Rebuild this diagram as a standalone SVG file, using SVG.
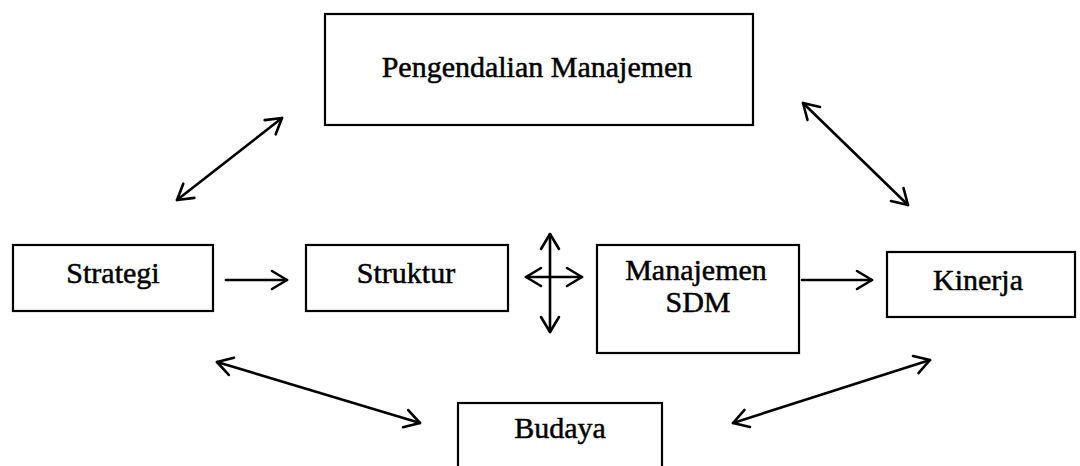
<svg xmlns="http://www.w3.org/2000/svg" width="1080" height="466" viewBox="0 0 1080 466">
<style>
.box{fill:#fff;stroke:#000;stroke-width:2.2}
.lbl{font-family:"Liberation Serif","Times New Roman",serif;font-size:30px;fill:#000;stroke:#000;stroke-width:0.5;text-anchor:middle}
.con{fill:none;stroke:#000;stroke-width:2.6;stroke-linecap:round}
</style>
<defs>
<marker id="ah" viewBox="0 0 24 24" refX="21" refY="12" markerWidth="24" markerHeight="24" markerUnits="userSpaceOnUse" orient="auto-start-reverse">
<path d="M6,3 L21,12 L6,21" fill="none" stroke="#000" stroke-width="2.6" stroke-linecap="round" stroke-linejoin="round"/>
</marker>
</defs>
<rect width="1080" height="466" fill="#fff"/>
<g id="connectors">
<line class="con" x1="226" y1="280" x2="287" y2="280" marker-end="url(#ah)"/>
<line class="con" x1="802" y1="280" x2="872" y2="280" marker-end="url(#ah)"/>
<line class="con" x1="550" y1="234" x2="550" y2="332" marker-start="url(#ah)" marker-end="url(#ah)"/>
<line class="con" x1="526" y1="277" x2="582" y2="277" marker-start="url(#ah)" marker-end="url(#ah)"/>
<line class="con" x1="177" y1="200" x2="282" y2="118" marker-start="url(#ah)" marker-end="url(#ah)"/>
<line class="con" x1="803" y1="103" x2="908" y2="205" marker-start="url(#ah)" marker-end="url(#ah)"/>
<line class="con" x1="217" y1="362" x2="420" y2="423" marker-start="url(#ah)" marker-end="url(#ah)"/>
<line class="con" x1="930" y1="360" x2="733" y2="423" marker-start="url(#ah)" marker-end="url(#ah)"/>
</g>
<g id="pengendalian">
<rect class="box" x="325" y="14" width="428" height="111"/>
<text class="lbl" x="537" y="77">Pengendalian Manajemen</text>
</g>
<g id="strategi">
<rect class="box" x="13" y="245" width="200" height="66"/>
<text class="lbl" x="113" y="283">Strategi</text>
</g>
<g id="struktur">
<rect class="box" x="306" y="245" width="202" height="66"/>
<text class="lbl" x="406" y="283">Struktur</text>
</g>
<g id="sdm">
<rect class="box" x="597" y="245" width="202" height="108"/>
<text class="lbl" x="696" y="280">Manajemen</text>
<text class="lbl" x="698" y="312">SDM</text>
</g>
<g id="kinerja">
<rect class="box" x="887" y="252" width="188" height="65"/>
<text class="lbl" x="978" y="290">Kinerja</text>
</g>
<g id="budaya">
<rect class="box" x="458" y="403" width="204" height="70"/>
<text class="lbl" x="560" y="438">Budaya</text>
</g>
</svg>
